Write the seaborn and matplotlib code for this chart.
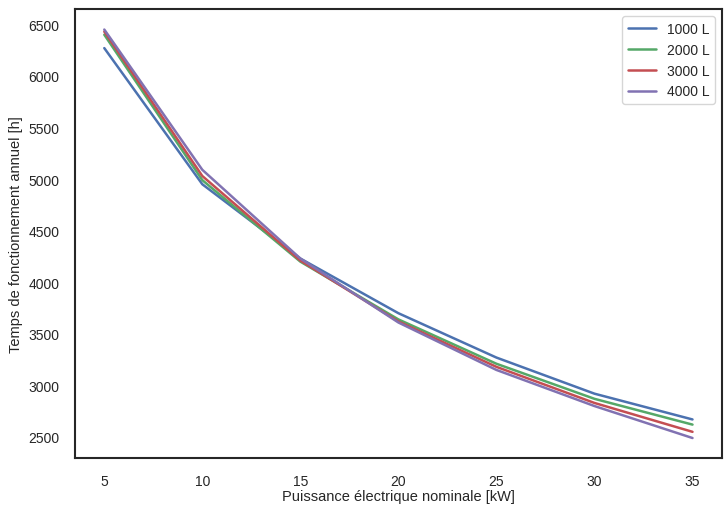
import matplotlib
matplotlib.use("Agg")
import matplotlib.pyplot as plt
import seaborn as sns
import pandas as pd

puissance = [5, 10, 15, 20, 25, 30, 35]
v1000 = [6270, 4950, 4230, 3700, 3270, 2920, 2670]
v2000 = [6400, 4990, 4200, 3640, 3210, 2870, 2620]
v3000 = [6430, 5030, 4210, 3620, 3180, 2830, 2550]
v4000 = [6450, 5090, 4230, 3610, 3150, 2800, 2490]
labels = ["1000 L", "2000 L", "3000 L", "4000 L"]
colors = ["#4C72B0", "#55A868", "#C44E52", "#8172B2"]

sns.set_theme(style="white")
plt.rcParams['font.family'] = ['Liberation Sans', 'DejaVu Sans']

rows = []
for lab, vals in zip(labels, [v1000, v2000, v3000, v4000]):
    for x, y in zip(puissance, vals):
        rows.append({"P": x, "T": y, "Volume": lab})
df = pd.DataFrame(rows)

fig, ax = plt.subplots(figsize=(7.27, 5.06), dpi=100)
fig.subplots_adjust(left=0.103, right=0.993, top=0.980, bottom=0.092)
sns.lineplot(data=df, x="P", y="T", hue="Volume", palette=colors, ax=ax, linewidth=1.8)
ax.set_xlabel("Puissance électrique nominale [kW]", fontsize=10.5, labelpad=1)
ax.set_ylabel("Temps de fonctionnement annuel [h]", fontsize=10.5)
ax.tick_params(labelsize=10, pad=5)
ax.legend(title=None, loc="upper right", fontsize=10)
for s in ax.spines.values():
    s.set_color("#262626")
    s.set_linewidth(1.5)
fig.savefig("out.png", dpi=100)
